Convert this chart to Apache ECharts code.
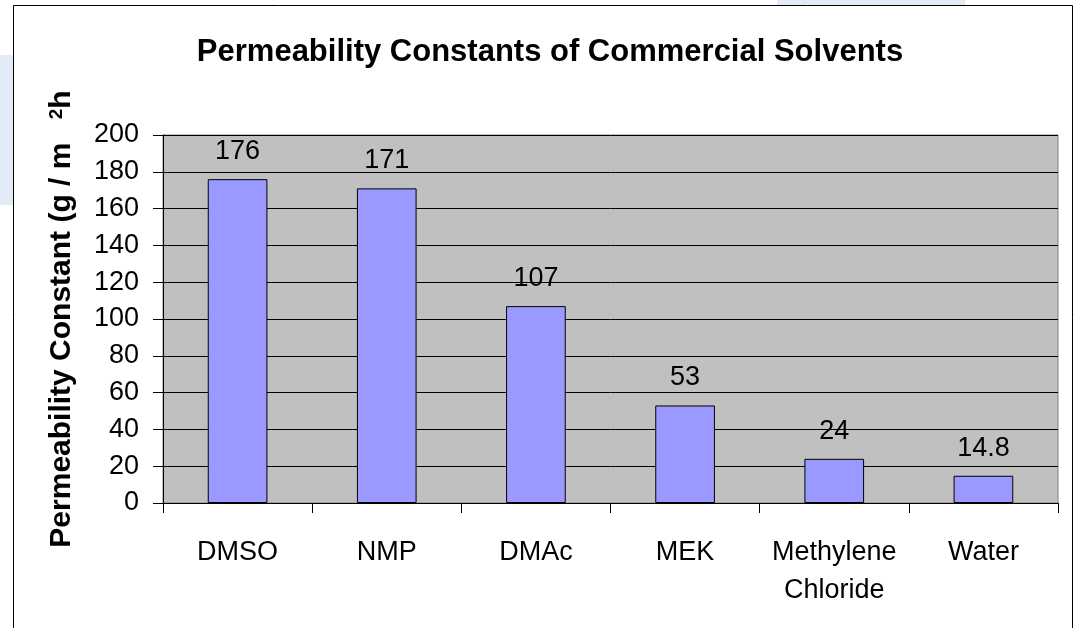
<!DOCTYPE html>
<html>
<head>
<meta charset="utf-8">
<script src="https://cdn.jsdelivr.net/npm/echarts@6/dist/echarts.min.js"></script>
<style>html,body{margin:0;padding:0;background:#fff}#c{width:1074px;height:628px}</style>
</head>
<body>
<div id="c"></div>
<script>
const categories = ['DMSO', 'NMP', 'DMAc', 'MEK', 'Methylene\nChloride', 'Water'];
const values = [176, 171, 107, 53, 24, 14.8];
const titleText = 'Permeability Constants of Commercial Solvents';
const yTitleMain = 'Permeability Constant (g / m';
const yTitleSup = '2';
const yTitleEnd = 'h';

const FONT = 'Liberation Sans, Arial, sans-serif';
const chart = echarts.init(document.getElementById('c'), null, {renderer: 'canvas'});
chart.setOption({
  backgroundColor: '#ffffff',
  animation: false,
  graphic: [
    {type: 'rect', shape: {x: 0, y: 55, width: 13, height: 150}, style: {fill: '#e3ebf8'}, z: -1},
    {type: 'rect', shape: {x: 777, y: 0, width: 188, height: 5}, style: {fill: '#e3ebf8'}, z: -1},
    {type: 'rect', shape: {x: 13.5, y: 5.5, width: 1059, height: 640}, style: {fill: 'none', stroke: '#000', lineWidth: 1}, z: 0}
  ],
  title: {
    text: titleText,
    left: 545, top: 32, textAlign: 'center',
    textStyle: {fontFamily: FONT, fontWeight: 'bold', fontSize: 31, color: '#000'}
  },
  grid: {
    left: 163, right: 16, top: 135, bottom: 125,
    show: true, backgroundColor: '#c0c0c0', borderColor: '#808080', borderWidth: 1
  },
  xAxis: {
    type: 'category',
    data: categories,
    axisLine: {lineStyle: {color: '#000', width: 1}},
    axisTick: {show: true, length: 10, alignWithLabel: false, lineStyle: {color: '#000'}},
    axisLabel: {fontFamily: FONT, fontSize: 27, color: '#000', margin: 31, lineHeight: 38, interval: 0}
  },
  yAxis: {
    type: 'value',
    min: 0, max: 200, interval: 20,
    name: '{a|' + yTitleMain + '}       {s|' + yTitleSup + '}{a|' + yTitleEnd + '}',
    nameLocation: 'middle',
    nameGap: 86,
    nameRotate: 90,
    nameTextStyle: {
      rich: {
        a: {fontFamily: FONT, fontWeight: 'bold', fontSize: 30, color: '#000', verticalAlign: 'bottom'},
        s: {fontFamily: FONT, fontWeight: 'bold', fontSize: 19, color: '#000', verticalAlign: 'top'}
      }
    },
    axisLine: {show: true, lineStyle: {color: '#000', width: 1}},
    axisTick: {show: true, length: 10, lineStyle: {color: '#000'}},
    axisLabel: {fontFamily: FONT, fontSize: 27, color: '#000', margin: 24},
    splitLine: {show: true, lineStyle: {color: '#000', width: 1}}
  },
  series: [{
    type: 'bar',
    data: values,
    barWidth: '40%',
    itemStyle: {color: '#9999ff', borderColor: '#000', borderWidth: 1},
    label: {show: true, position: 'top', distance: 14, fontFamily: FONT, fontSize: 27, color: '#000'}
  }]
});
</script>
</body>
</html>
